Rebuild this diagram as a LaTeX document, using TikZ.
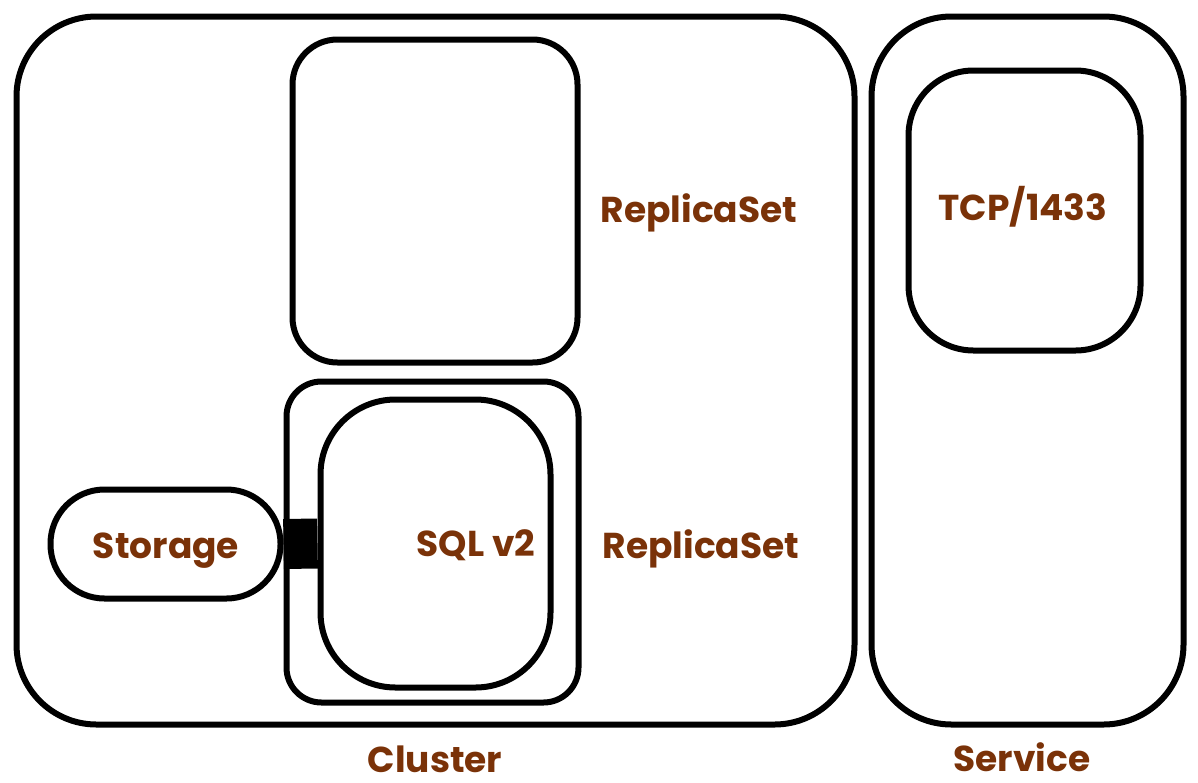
\documentclass[tikz,border=0pt]{standalone}
\usepackage{fontspec}
\setmainfont{Poppins}
\usepackage{tikz}
\definecolor{labelbrown}{HTML}{7A3208}

\begin{document}
\begin{tikzpicture}[x=1pt, y=-1pt]
    \tikzset{
      box/.style={draw=black, line width=6pt, rectangle, inner sep=0pt},
      lbl/.style={text=labelbrown, anchor=base, inner sep=0pt, font=\fontsize{36}{40}\selectfont\bfseries}
    }
    \useasboundingbox (0,0) rectangle (1198,782);

    % Cluster und Service
    \node[box, rounded corners=80pt, minimum width=838pt, minimum height=708pt] (cluster) at (435.5,370.5) {};
    \node[box, rounded corners=80pt, minimum width=312pt, minimum height=708pt] (service) at (1027.5,370.5) {};
    \node[lbl] (clusterlbl) at (435,772) {Cluster};
    \node[lbl] (servicelbl) at (1022,771) {Service};

    % obere ReplicaSet (leer)
    \node[box, rounded corners=45pt, minimum width=285pt, minimum height=323pt] (rstop) at (435,201) {};
    \node[lbl] (rstoplbl) at (699,222) {ReplicaSet};

    % Port im Service
    \node[box, rounded corners=65pt, minimum width=232pt, minimum height=280pt] (tcp) at (1024.5,210.5) {};
    \node[lbl] (tcplbl) at (1023,220) {TCP/1433};

    % untere ReplicaSet mit Pod
    \node[box, rounded corners=35pt, minimum width=292pt, minimum height=321pt] (rsbottom) at (432.5,542) {};
    \node[box, rounded corners=75pt, minimum width=230pt, minimum height=288pt] (sqlpod) at (435.5,543.5) {};
    \node[lbl] (sqllbl) at (476,556) {SQL v2};
    \node[lbl] (rsbottomlbl) at (701,558) {ReplicaSet};

    % Storage, am Pod angehaengt
    \node[box, rounded corners=54pt, minimum width=230pt, minimum height=109pt] (storage) at (165.5,544) {};
    \node[lbl] (storagelbl) at (166,558) {Storage};
    \draw[line width=50pt] (storage.east) -- (sqlpod.west);
  \end{tikzpicture}
\end{document}
